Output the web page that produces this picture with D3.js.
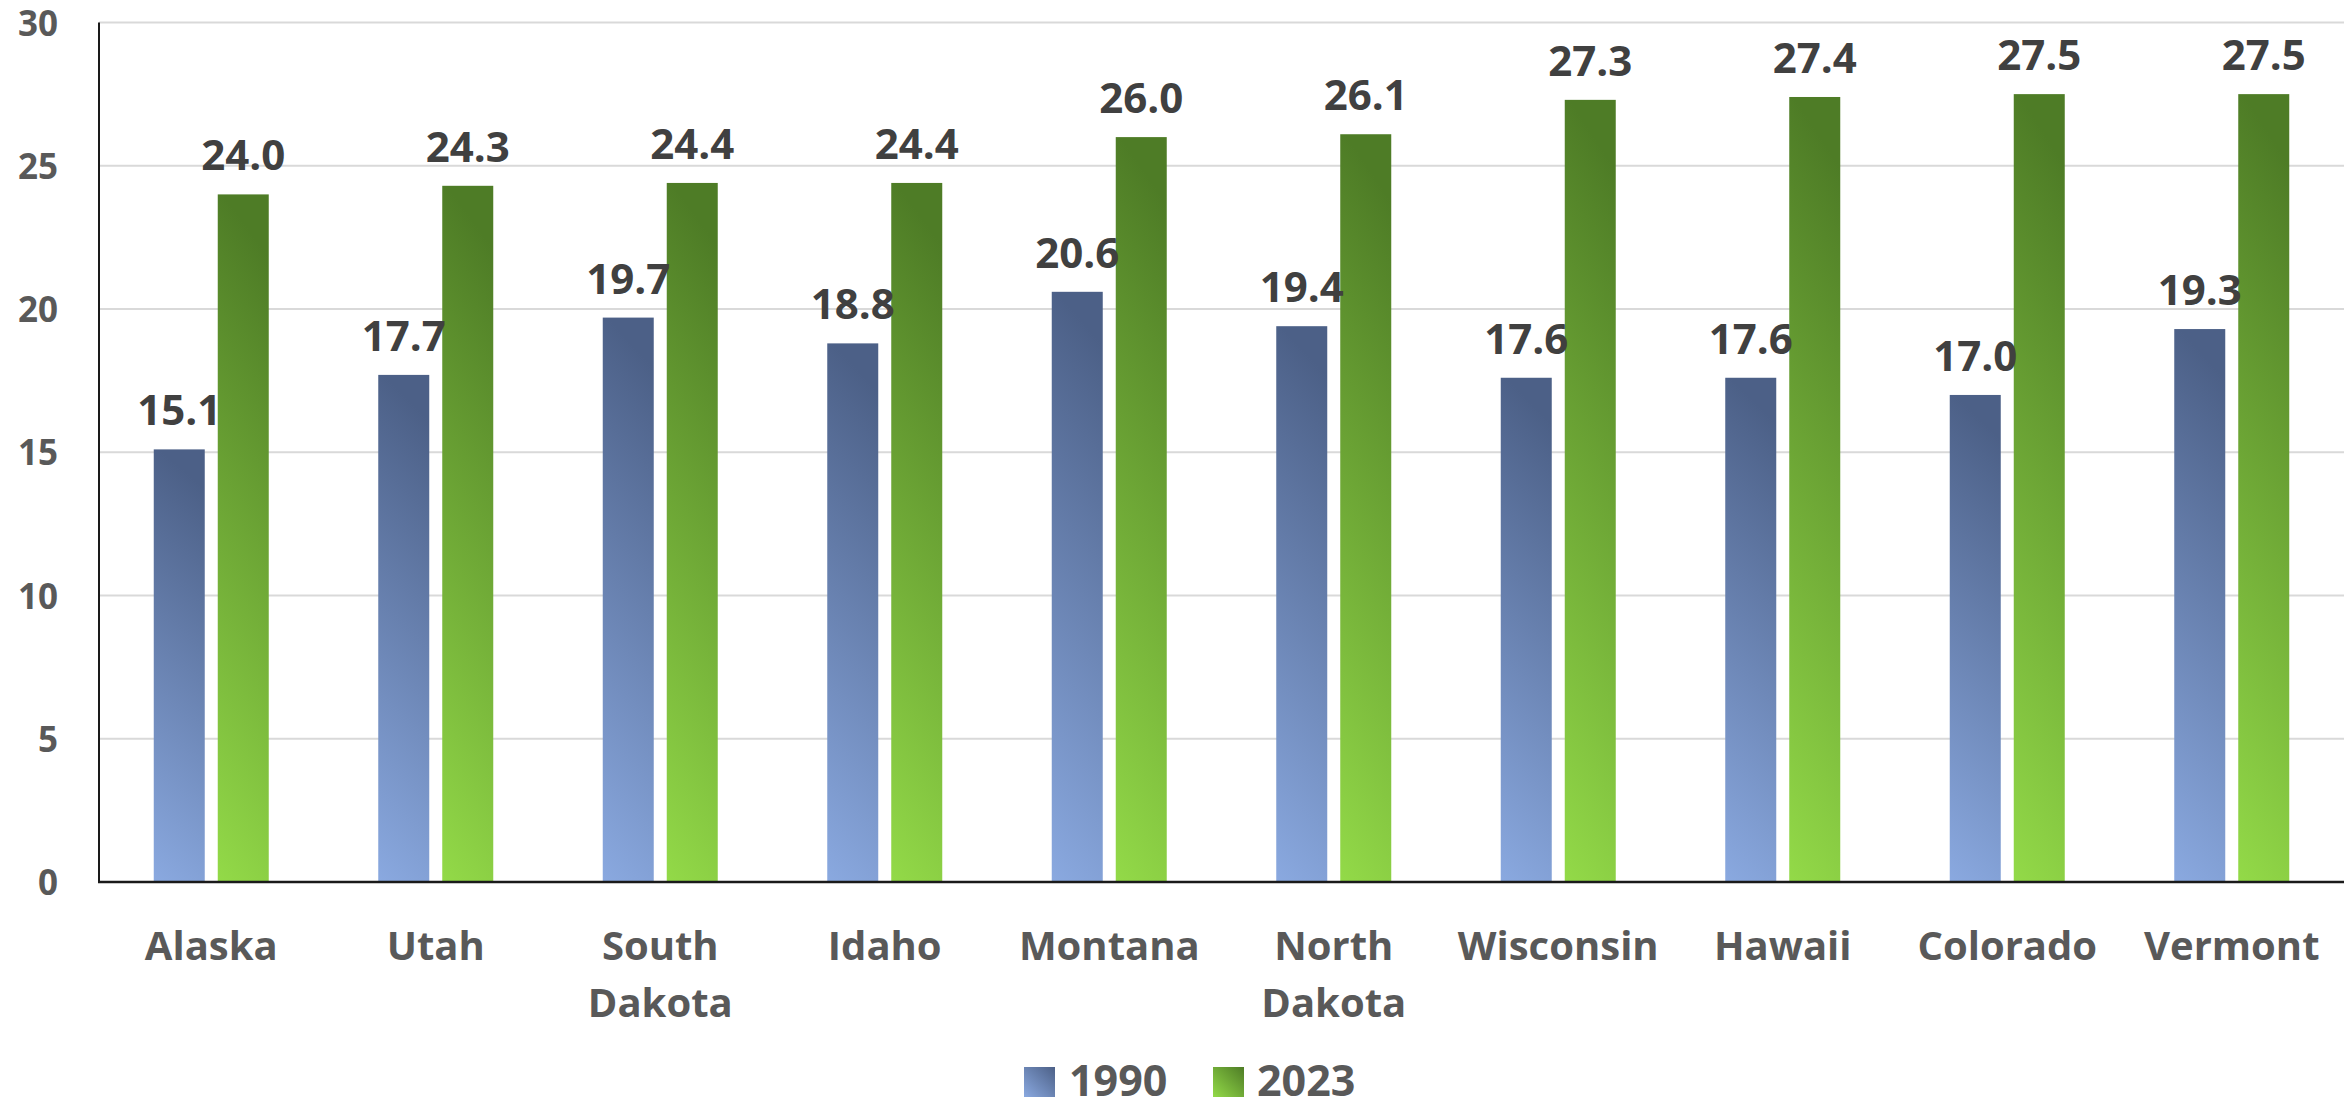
<!DOCTYPE html>
<html>
<head>
<meta charset="utf-8">
<script src="https://cdn.jsdelivr.net/npm/d3@7/dist/d3.min.js"></script>
<style>
  html, body { margin: 0; padding: 0; background: #ffffff; }
  svg { display: block; font-family: "Open Sans", "Noto Sans", sans-serif; }
</style>
</head>
<body>
<svg id="chart" width="2351" height="1108"></svg>
<script>
// States and the two survey years
const categories = [
  ["Alaska"], ["Utah"], ["South", "Dakota"], ["Idaho"], ["Montana"],
  ["North", "Dakota"], ["Wisconsin"], ["Hawaii"], ["Colorado"], ["Vermont"]
];
const seriesNames = ["1990", "2023"];
const values1990 = [15.1, 17.7, 19.7, 18.8, 20.6, 19.4, 17.6, 17.6, 17.0, 19.3];
const values2023 = [24.0, 24.3, 24.4, 24.4, 26.0, 26.1, 27.3, 27.4, 27.5, 27.5];
const yTicks = [0, 5, 10, 15, 20, 25, 30];

const W = 2351, H = 1108;
const margin = { left: 99, right: 7, top: 22.5, bottom: 226 };
const innerW = W - margin.left - margin.right;
const innerH = H - margin.top - margin.bottom;

const svg = d3.select("#chart");

// Per-bar vertical gradients (dark at top, light at bottom)
const defs = svg.append("defs");
const gradients = [
  { id: "grad1990", top: "#4c6087", bottom: "#8aa9e0" },
  { id: "grad2023", top: "#4e7c26", bottom: "#93da48" }
];
gradients.forEach(g => {
  const lg = defs.append("linearGradient")
    .attr("id", g.id)
    .attr("x1", 0.1).attr("y1", 0).attr("x2", 0).attr("y2", 1);
  lg.append("stop").attr("offset", "0%").attr("stop-color", g.top);
  lg.append("stop").attr("offset", "100%").attr("stop-color", g.bottom);
});
const legendGrads = [
  { id: "leg1990", top: "#4c6087", bottom: "#8aa9e0" },
  { id: "leg2023", top: "#4e7c26", bottom: "#93da48" }
];
legendGrads.forEach(g => {
  const lg = defs.append("linearGradient")
    .attr("id", g.id)
    .attr("x1", 1).attr("y1", 0).attr("x2", 0).attr("y2", 1);
  lg.append("stop").attr("offset", "0%").attr("stop-color", g.top);
  lg.append("stop").attr("offset", "100%").attr("stop-color", g.bottom);
});

const g = svg.append("g").attr("transform", `translate(${margin.left},${margin.top})`);

const x = d3.scaleBand()
  .domain(categories.map((c, i) => i))
  .range([0, innerW])
  .paddingInner(0)
  .paddingOuter(0);

const groupW = 115;
const x1 = d3.scaleBand()
  .domain(seriesNames)
  .range([0, groupW])
  .paddingInner(13 / 64)
  .paddingOuter(0);

const y = d3.scaleLinear().domain([0, 30]).range([innerH, 0]);

// Horizontal gridlines
g.append("g")
  .selectAll("line")
  .data(yTicks.filter(t => t > 0))
  .join("line")
  .attr("x1", 0).attr("x2", innerW)
  .attr("y1", d => y(d)).attr("y2", d => y(d))
  .attr("stroke", "#d9d9d9")
  .attr("stroke-width", 2);

// Y axis tick labels
const yAxis = d3.axisLeft(y).tickValues(yTicks).tickSize(0).tickPadding(41);
const yG = g.append("g").call(yAxis);
yG.select(".domain").remove();
yG.selectAll("text")
  .attr("font-family", "'Open Sans', sans-serif")
  .attr("font-weight", 700)
  .attr("font-size", 35)
  .attr("fill", "#595959")
  .attr("dy", "0.36em");

// Bars
const series = [values1990, values2023];
const groups = g.append("g")
  .selectAll("g")
  .data(categories.map((c, i) => i))
  .join("g")
  .attr("transform", i => `translate(${x(i) + (x.bandwidth() - groupW) / 2},0)`);

groups.selectAll("rect")
  .data(i => seriesNames.map((s, k) => ({ s, k, v: series[k][i] })))
  .join("rect")
  .attr("x", d => x1(d.s))
  .attr("width", x1.bandwidth())
  .attr("y", d => y(d.v))
  .attr("height", d => y(0) - y(d.v))
  .attr("fill", d => `url(#grad${d.s})`);

// Value labels above bars
groups.selectAll("text.value")
  .data(i => seriesNames.map((s, k) => ({ s, k, v: series[k][i] })))
  .join("text")
  .attr("class", "value")
  .attr("x", d => x1(d.s) + x1.bandwidth() / 2)
  .attr("y", d => y(d.v) - 24)
  .attr("text-anchor", "middle")
  .attr("font-family", "'Open Sans', sans-serif")
  .attr("font-weight", 700)
  .attr("font-size", 42)
  .attr("fill", "#404040")
  .text(d => d.v.toFixed(1));

// Axis lines
g.append("line")
  .attr("x1", 0).attr("x2", 0)
  .attr("y1", 0).attr("y2", innerH)
  .attr("stroke", "#1a1a1a").attr("stroke-width", 2);
g.append("line")
  .attr("x1", -1).attr("x2", innerW)
  .attr("y1", innerH).attr("y2", innerH)
  .attr("stroke", "#1a1a1a").attr("stroke-width", 2.5);

// Category labels (wrapped onto two lines where needed)
const catLabels = g.append("g")
  .selectAll("text")
  .data(categories.map((c, i) => i))
  .join("text")
  .attr("x", i => x(i) + x.bandwidth() / 2)
  .attr("y", innerH + 78)
  .attr("text-anchor", "middle")
  .attr("font-family", "'Open Sans', sans-serif")
  .attr("font-weight", 700)
  .attr("font-size", 40)
  .attr("fill", "#595959");
catLabels.selectAll("tspan")
  .data(i => categories[i].map((line, j) => ({ line, j, i })))
  .join("tspan")
  .attr("x", d => x(d.i) + x.bandwidth() / 2)
  .attr("dy", d => d.j === 0 ? 0 : 57)
  .text(d => d.line);

// Legend
const legend = svg.append("g");
const legendItems = [
  { name: seriesNames[0], grad: "leg1990", sx: 1024, tx: 1069 },
  { name: seriesNames[1], grad: "leg2023", sx: 1213, tx: 1257 }
];
legendItems.forEach(it => {
  legend.append("rect")
    .attr("x", it.sx).attr("y", 1067)
    .attr("width", 31).attr("height", 30)
    .attr("fill", `url(#${it.grad})`);
  legend.append("text")
    .attr("x", it.tx).attr("y", 1096)
    .attr("font-family", "'Open Sans', sans-serif")
    .attr("font-weight", 700)
    .attr("font-size", 43)
    .attr("fill", "#595959")
    .text(it.name);
});
</script>
</body>
</html>
